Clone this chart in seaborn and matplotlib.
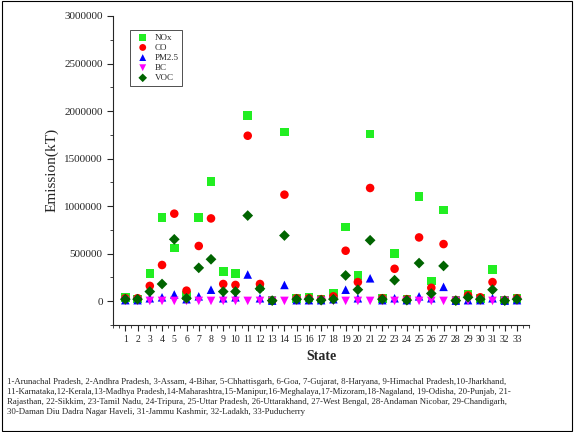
import matplotlib
matplotlib.use("Agg")
import matplotlib.pyplot as plt
import seaborn as sns
import pandas as pd
from matplotlib.ticker import MultipleLocator

states = list(range(1, 34))
nox = [40e3,20e3,290e3,880e3,560e3,60e3,880e3,1260e3,310e3,290e3,1950e3,150e3,10e3,1780e3,30e3,40e3,20e3,80e3,780e3,270e3,1760e3,30e3,500e3,20e3,1100e3,210e3,960e3,10e3,70e3,30e3,330e3,10e3,30e3]
co = [30e3,30e3,160e3,380e3,920e3,110e3,580e3,870e3,180e3,170e3,1740e3,180e3,5e3,1120e3,30e3,30e3,20e3,50e3,530e3,200e3,1190e3,30e3,340e3,20e3,670e3,140e3,600e3,10e3,60e3,40e3,200e3,10e3,30e3]
pm25 = [10e3,10e3,30e3,40e3,70e3,20e3,50e3,120e3,30e3,40e3,280e3,30e3,5e3,170e3,10e3,10e3,10e3,20e3,120e3,30e3,240e3,10e3,30e3,10e3,50e3,30e3,150e3,5e3,10e3,10e3,30e3,5e3,10e3]
bc = [2e3]*33
voc = [20e3,20e3,100e3,180e3,650e3,30e3,350e3,440e3,100e3,100e3,900e3,130e3,5e3,690e3,20e3,20e3,10e3,20e3,270e3,120e3,640e3,20e3,220e3,10e3,400e3,80e3,370e3,5e3,40e3,20e3,120e3,5e3,20e3]

sns.set_style("white")
plt.rcParams['font.family'] = ['Liberation Serif', 'DejaVu Serif']

fig = plt.figure(figsize=(5.74, 4.32), dpi=100)
ax = fig.add_axes([0.197, 0.248, 0.725, 0.715])
series = [("NOx", nox, "s", "#22ee22"), ("CO", co, "o", "red"), ("PM2.5", pm25, "^", "blue"),
          ("BC", bc, "v", "magenta"), ("VOC", voc, "D", "#006400")]
for name, vals, m, c in series:
    df = pd.DataFrame({"State": states, "E": vals})
    sns.scatterplot(data=df, x="State", y="E", marker=m, color=c, s=38 if m != "D" else 30,
                    edgecolor="none", ax=ax, label=name, zorder=3)
ax.set_xlim(0, 34)
ax.set_ylim(-250000, 3000000)
ax.set_xticks(states)
ax.set_xticklabels([str(s) for s in states], fontsize=7)
ax.xaxis.set_minor_locator(MultipleLocator(0.5))
ax.yaxis.set_major_locator(MultipleLocator(500000))
ax.yaxis.set_minor_locator(MultipleLocator(250000))
ax.ticklabel_format(axis='y', style='plain')
ax.tick_params(axis='y', labelsize=8)
ax.tick_params(which='both', direction='out', bottom=True, left=True)
ax.tick_params(which='major', length=4)
ax.tick_params(which='minor', length=2)
for s in ["top", "right"]:
    ax.spines[s].set_visible(False)
ax.set_xlabel("State", fontsize=10, fontweight="bold")
ax.set_ylabel("Emission(kT)", fontsize=11)
leg = ax.legend(loc="upper left", bbox_to_anchor=(0.03, 0.97), fontsize=6.5, frameon=True,
                fancybox=False, edgecolor="black", handletextpad=0.3, labelspacing=0.2, markerscale=0.8)
leg.get_frame().set_linewidth(0.6)

foot = ("1-Arunachal Pradesh, 2-Andhra Pradesh, 3-Assam, 4-Bihar, 5-Chhattisgarh, 6-Goa, 7-Gujarat, 8-Haryana, 9-Himachal Pradesh,10-Jharkhand,\n"
        "11-Karnataka,12-Kerala,13-Madhya Pradesh,14-Maharashtra,15-Manipur,16-Meghalaya,17-Mizoram,18-Nagaland, 19-Odisha, 20-Punjab, 21-\n"
        "Rajasthan, 22-Sikkim, 23-Tamil Nadu, 24-Tripura, 25-Uttar Pradesh, 26-Uttarakhand, 27-West Bengal, 28-Andaman Nicobar, 29-Chandigarh,\n"
        "30-Daman Diu Dadra Nagar Haveli, 31-Jammu Kashmir, 32-Ladakh, 33-Puducherry")
fig.text(0.012, 0.125, foot, fontsize=6.3, va="top", ha="left", linespacing=1.35)
fig.patches.append(plt.Rectangle((0.003, 0.003), 0.994, 0.994, transform=fig.transFigure,
                                 fill=False, edgecolor="black", linewidth=0.8))
fig.savefig("out.png", dpi=100)
